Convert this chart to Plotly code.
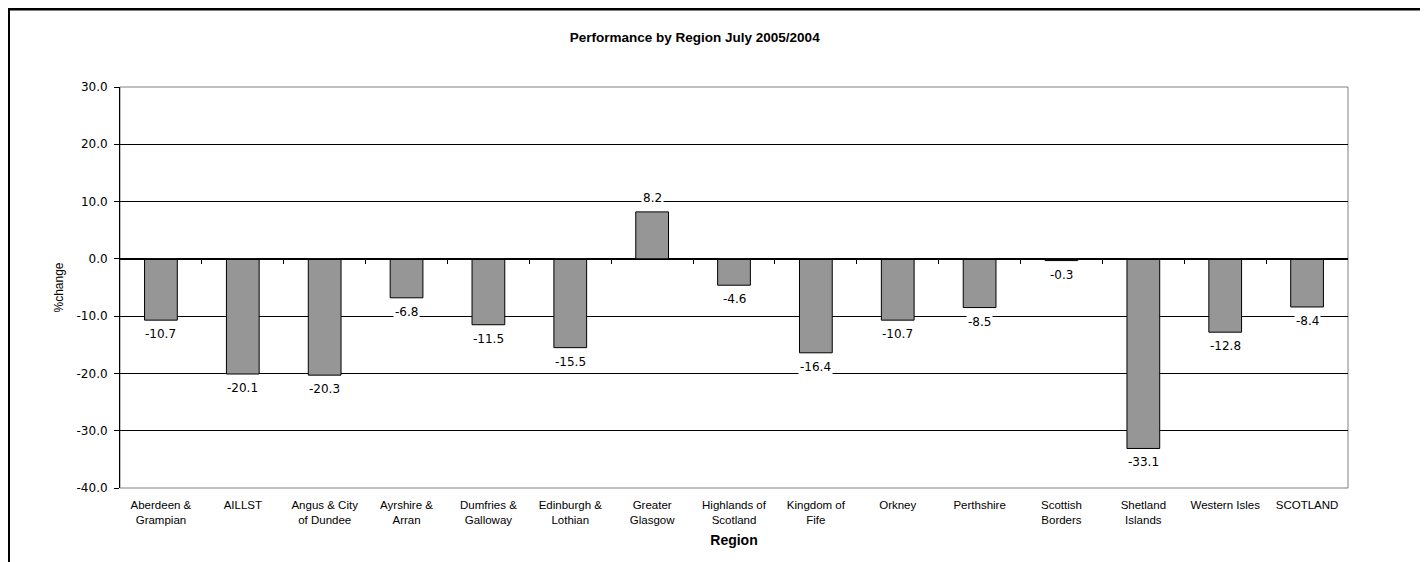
import plotly.graph_objects as go

regions = ["Aberdeen &<br>Grampian", "AILLST", "Angus & City<br>of Dundee", "Ayrshire &<br>Arran",
           "Dumfries &<br>Galloway", "Edinburgh &<br>Lothian", "Greater<br>Glasgow", "Highlands of<br>Scotland",
           "Kingdom of<br>Fife", "Orkney", "Perthshire", "Scottish<br>Borders", "Shetland<br>Islands",
           "Western Isles", "SCOTLAND"]
pct_change = [-10.7, -20.1, -20.3, -6.8, -11.5, -15.5, 8.2, -4.6, -16.4, -10.7, -8.5, -0.3, -33.1, -12.8, -8.4]
y_ticks = [30, 20, 10, 0, -10, -20, -30, -40]
y_tick_labels = ["30.0", "20.0", "10.0", "0.0", "-10.0", "-20.0", "-30.0", "-40.0"]

n = len(regions)
xs = list(range(n))
boundaries = [i + 0.5 for i in range(n - 1)]
ymin, ymax = -40, 30

fig = go.Figure()
fig.add_trace(go.Bar(
    x=xs, y=pct_change, width=0.4,
    marker=dict(color="#969696", line=dict(color="#000000", width=1)),
    hoverinfo="skip", showlegend=False,
))
# invisible trace to keep overlay axis drawn
fig.add_trace(go.Scatter(x=[0], y=[0], xaxis="x2", mode="markers",
                         marker=dict(opacity=0), hoverinfo="skip", showlegend=False))

for x, v in zip(xs, pct_change):
    fig.add_annotation(
        x=x, y=v, xref="x", yref="y",
        text=f"{v:.1f}", showarrow=False,
        yanchor="middle", yshift=(14 if v >= 0 else -14),
        bgcolor="#ffffff", borderpad=1,
        font=dict(family="DejaVu Sans", size=12, color="#000000"),
    )

# chart frame
fig.add_shape(type="rect", xref="paper", yref="paper",
              x0=-0.0908, x1=1.0631, y0=-0.35, y1=1.1945,
              line=dict(color="#000000", width=3), fillcolor="rgba(0,0,0,0)", layer="below")
# plot-area border
fig.add_shape(type="rect", xref="paper", yref="paper", x0=0, x1=1, y0=0, y1=1,
              line=dict(color="#808080", width=1), fillcolor="rgba(0,0,0,0)", layer="below")

fig.update_layout(
    width=1420, height=554,
    margin=dict(l=112, r=80, t=79, b=74),
    paper_bgcolor="#ffffff", plot_bgcolor="#ffffff",
    bargap=0.6,
    title=dict(text="<b>Performance by Region July 2005/2004</b>",
               x=0.468, xref="paper", xanchor="center",
               y=1 - 29 / 554, yref="container", yanchor="middle",
               font=dict(family="Liberation Sans", size=13.5, color="#000000")),
    xaxis=dict(
        range=[-0.5, n - 0.5], tickmode="array", tickvals=xs, ticktext=regions,
        ticks="outside", ticklen=6, tickcolor="rgba(0,0,0,0)",
        tickfont=dict(family="Liberation Sans", size=11.5, color="#000000"),
        showgrid=False, zeroline=False, showline=False,
        title=dict(text="<b>Region</b>", standoff=10,
                   font=dict(family="Liberation Sans", size=14, color="#000000")),
    ),
    xaxis2=dict(
        overlaying="x", anchor="free", position=(0 - ymin) / (ymax - ymin),
        range=[-0.5, n - 0.5], tickmode="array", tickvals=boundaries, ticktext=[""] * len(boundaries),
        ticks="outside", ticklen=4, tickcolor="#000000", tickwidth=1,
        showline=True, linecolor="#000000", linewidth=1,
        showgrid=False, zeroline=False, side="bottom",
    ),
    yaxis=dict(
        range=[ymin, ymax], tickmode="array", tickvals=y_ticks, ticktext=y_tick_labels,
        ticks="outside", ticklen=5, tickcolor="#000000", ticklabelstandoff=4,
        tickfont=dict(family="DejaVu Sans", size=12, color="#000000"),
        showgrid=True, gridcolor="#000000", gridwidth=1,
        zeroline=True, zerolinecolor="#000000", zerolinewidth=1,
        showline=True, linecolor="#000000", linewidth=1,
        title=dict(text="%change", standoff=10,
                   font=dict(family="Liberation Sans", size=12, color="#000000")),
    ),
)

fig.write_html("out.html")
